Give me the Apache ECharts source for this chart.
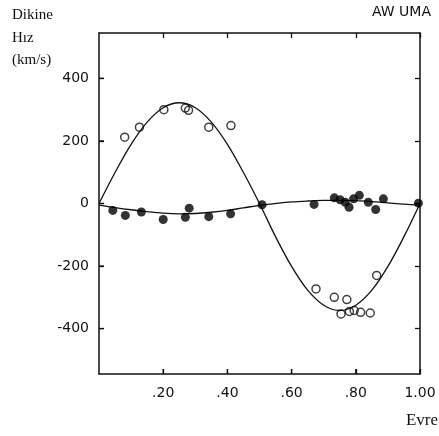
<!DOCTYPE html>
<html>
<head>
<meta charset="utf-8">
<script src="https://cdn.jsdelivr.net/npm/echarts@6/dist/echarts.min.js"></script>
<style>
  html, body { margin: 0; padding: 0; background: #fff; }
  #chart { width: 439px; height: 436px; }
</style>
</head>
<body>
<div id="chart"></div>
<script>
// Radial velocity curve of AW UMa: phase vs. radial velocity (km/s)

// Ticks
const xTicks = [0.2, 0.4, 0.6, 0.8, 1.0];
const xTickLabels = ['.20', '.40', '.60', '.80', '1.00'];
const yTicks = [-400, -200, 0, 200, 400];
const yTickLabels = ['-400', '-200', '0', '200', '400'];
const xRange = [0, 1];
const yRange = [-545, 545];

// Secondary component (open circles): [phase, velocity]
const secondaryObs = [
  [0.080, 212], [0.126, 244], [0.202, 300], [0.269, 305], [0.279, 298],
  [0.342, 244], [0.411, 249],
  [0.676, -273], [0.733, -300], [0.754, -353], [0.772, -307],
  [0.780, -345], [0.795, -342], [0.815, -348], [0.845, -350], [0.865, -230]
];

// Primary component (filled circles): [phase, velocity]
const primaryObs = [
  [0.043, -22], [0.082, -38], [0.132, -27], [0.200, -51], [0.269, -44],
  [0.281, -15], [0.342, -42], [0.410, -33], [0.508, -4], [0.670, -3],
  [0.733, 18], [0.751, 12], [0.767, 4], [0.779, -12], [0.793, 15],
  [0.811, 26], [0.839, 4], [0.862, -19], [0.886, 15], [0.995, 1]
];

// Fitted orbit curves, read at steps of 0.05 in phase
const curvePhase = [0, 0.05, 0.10, 0.15, 0.20, 0.25, 0.30, 0.35, 0.40, 0.45, 0.50,
                    0.55, 0.60, 0.65, 0.70, 0.75, 0.80, 0.85, 0.90, 0.95, 1.00];
const secondaryFit = [0, 99, 189, 260, 306, 322, 306, 260, 189, 99, 0,
                      -106, -201, -277, -325, -342, -325, -277, -201, -106, 0];
const primaryFit = [-5, -13, -20, -26, -31, -33, -32, -28, -22, -14, -6,
                    0, 5, 8, 10, 10, 9, 6, 2, -2, -5];

const pair = (xs, ys) => xs.map((x, i) => [x, ys[i]]);

const INK = '#111';
const TICK_LEN = 5;
const labelFont = { fontFamily: 'DejaVu Sans', fontSize: 14, color: INK };
const tick = vals => ({ show: true, inside: true, length: TICK_LEN, interval: 0, customValues: vals,
                        lineStyle: { color: INK, width: 1.3 } });
const axisLine = () => ({ show: true, onZero: false, lineStyle: { color: INK, width: 1.5 } });

// Inward tick marks along the bottom and left edges, placed through the axis scales
function edgeTick(horizontal) {
  return function (params, api) {
    const p = api.coord([api.value(0), api.value(1)]);
    const shape = horizontal
      ? { x1: p[0], y1: p[1], x2: p[0], y2: p[1] - TICK_LEN }
      : { x1: p[0], y1: p[1], x2: p[0] + TICK_LEN, y2: p[1] };
    return { type: 'line', shape: shape, style: { stroke: INK, lineWidth: 1.3 } };
  };
}

const chart = echarts.init(document.getElementById('chart'), null, { renderer: 'canvas' });

chart.setOption({
  backgroundColor: '#fff',
  animation: false,
  grid: { left: 99, right: 19, top: 33, bottom: 62 },
  xAxis: [
    {
      type: 'value', min: xRange[0], max: xRange[1], position: 'bottom',
      axisLine: axisLine(),
      axisTick: tick(xTicks),
      axisLabel: Object.assign({
        customValues: xTicks, margin: 12,
        formatter: v => xTickLabels[xTicks.findIndex(t => Math.abs(t - v) < 1e-6)] || ''
      }, labelFont),
      splitLine: { show: false }
    },
    {
      type: 'value', min: xRange[0], max: xRange[1], position: 'top',
      axisLine: axisLine(), axisTick: tick(xTicks),
      axisLabel: { show: false }, splitLine: { show: false }
    }
  ],
  yAxis: [
    {
      type: 'value', min: yRange[0], max: yRange[1], position: 'left',
      axisLine: axisLine(),
      axisTick: tick(yTicks),
      axisLabel: Object.assign({
        customValues: yTicks, margin: 10,
        formatter: v => yTickLabels[yTicks.indexOf(Math.round(v))] || ''
      }, labelFont),
      splitLine: { show: false }
    },
    {
      type: 'value', min: yRange[0], max: yRange[1], position: 'right',
      axisLine: axisLine(), axisTick: tick(yTicks),
      axisLabel: { show: false }, splitLine: { show: false }
    }
  ],
  series: [
    {
      type: 'line', data: pair(curvePhase, secondaryFit), smooth: 0.35,
      showSymbol: false, lineStyle: { color: INK, width: 1.3 }, z: 1, silent: true
    },
    {
      type: 'line', data: pair(curvePhase, primaryFit), smooth: 0.35,
      showSymbol: false, lineStyle: { color: INK, width: 1.3 }, z: 1, silent: true
    },
    {
      type: 'scatter', data: secondaryObs, symbol: 'circle', symbolSize: 8,
      itemStyle: { color: 'rgba(255,255,255,0)', borderColor: INK, borderWidth: 1.5 }, z: 3
    },
    {
      type: 'scatter', data: primaryObs, symbol: 'circle', symbolSize: 9,
      itemStyle: { color: '#000' }, z: 4
    },
    {
      type: 'custom', silent: true, z: 5, clip: false,
      data: xTicks.map(v => [v, yRange[0]]),
      renderItem: edgeTick(true)
    },
    {
      type: 'custom', silent: true, z: 5, clip: false,
      data: yTicks.map(v => [xRange[0], v]),
      renderItem: edgeTick(false)
    }
  ],
  graphic: [
    { type: 'text', style: { text: 'Dikine', x: 12, y: 15, font: '15px "Liberation Serif"', fill: INK, textVerticalAlign: 'middle' } },
    { type: 'text', style: { text: 'Hız', x: 12, y: 38, font: '15px "Liberation Serif"', fill: INK, textVerticalAlign: 'middle' } },
    { type: 'text', style: { text: '(km/s)', x: 12, y: 60, font: '15px "Liberation Serif"', fill: INK, textVerticalAlign: 'middle' } },
    { type: 'text', style: { text: 'AW UMA', x: 372, y: 12, font: '14px "DejaVu Sans"', fill: INK, textVerticalAlign: 'middle' } },
    { type: 'text', style: { text: 'Evre', x: 438, y: 421, font: '17px "Liberation Serif"', fill: INK, textAlign: 'right', textVerticalAlign: 'middle' } }
  ]
});
</script>
</body>
</html>
